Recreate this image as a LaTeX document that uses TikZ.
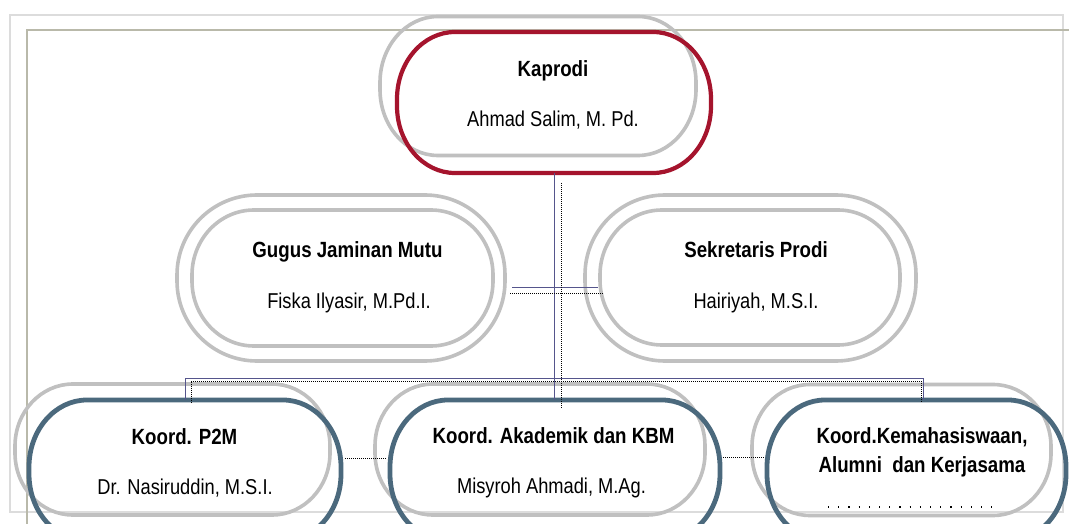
\documentclass[tikz,border=0pt]{standalone}
\usepackage{fontspec}
\setmainfont{Liberation Sans}
\newfontfamily\boxfont{Liberation Sans}[FakeStretch=0.85]
\definecolor{graybox}{RGB}{192,192,192}
\definecolor{redbox}{RGB}{165,20,45}
\definecolor{bluebox}{RGB}{75,105,125}
\definecolor{conn}{RGB}{85,85,140}
\definecolor{frameouter}{RGB}{220,220,220}
\definecolor{frameinner}{RGB}{185,185,170}
\tikzset{
  holder/.style={draw=none, inner sep=0pt, outer sep=0pt},
  graypen/.style={draw=graybox, line width=3.6pt},
  redpen/.style={draw=redbox, line width=4.2pt},
  bluepen/.style={draw=bluebox, line width=4.8pt},
  titletext/.style={anchor=base, inner sep=0pt, font=\boxfont\bfseries\fontsize{22}{29}\selectfont, align=center},
  nametext/.style={anchor=base, inner sep=0pt, font=\boxfont\fontsize{21.5}{26}\selectfont},
  solidconn/.style={draw=conn, line width=1pt},
  dotconn/.style={draw=black, line width=1pt, dash pattern=on 1pt off 1pt},
}
% #1 pen style, #2 node name, #3 x radius, #4 y radius
\newcommand{\pillshape}[4]{%
  \draw[#1] ([xshift=#3]#2.north west) -- ([xshift=-#3]#2.north east)
    arc[start angle=90, end angle=0, x radius=#3, y radius=#4]
    -- ([yshift=#4]#2.south east)
    arc[start angle=0, end angle=-90, x radius=#3, y radius=#4]
    -- ([xshift=#3]#2.south west)
    arc[start angle=270, end angle=180, x radius=#3, y radius=#4]
    -- ([yshift=-#4]#2.north west)
    arc[start angle=180, end angle=90, x radius=#3, y radius=#4] -- cycle;}
\begin{document}
\begin{tikzpicture}[x=1pt,y=-1pt]
\useasboundingbox (0,0) rectangle (1069,524);
\fill[white] (0,0) rectangle (1069,524);
% frames
\draw[frameouter, line width=2pt] (10,15) rectangle (1063,512);
\draw[frameinner, line width=2pt] (27,524) -- (27,30) -- (1069,30);

% back gray shapes (holders)
\node[holder, minimum width=316pt, minimum height=139pt] (kapB) at (538,86) {};
\node[holder, minimum width=328pt, minimum height=166pt] (gugB) at (341,278) {};
\node[holder, minimum width=331pt, minimum height=166pt] (sekB) at (750.5,278) {};
\node[holder, minimum width=315pt, minimum height=131pt] (p2mB) at (172.5,449.5) {};
\node[holder, minimum width=330pt, minimum height=131pt] (akaB) at (540,449.5) {};
\node[holder, minimum width=299pt, minimum height=131pt] (kemB) at (901.5,450) {};

% front shapes (holders)
\node[holder, minimum width=314pt, minimum height=141pt] (kap) at (554,102.5) {};
\node[holder, minimum width=301pt, minimum height=136pt] (gug) at (342.5,278) {};
\node[holder, minimum width=300pt, minimum height=135pt] (sek) at (750,277.5) {};
\node[holder, minimum width=312pt, minimum height=141pt] (p2m) at (185,470.5) {};
\node[holder, minimum width=330pt, minimum height=141pt] (aka) at (555,470.5) {};
\node[holder, minimum width=299pt, minimum height=141pt] (kem) at (916.5,470.5) {};

% outlines
\pillshape{graypen}{kapB}{58pt}{66pt}
\pillshape{graypen}{gugB}{80pt}{80pt}
\pillshape{graypen}{sekB}{80pt}{80pt}
\pillshape{graypen}{p2mB}{58pt}{62pt}
\pillshape{graypen}{akaB}{58pt}{62pt}
\pillshape{graypen}{kemB}{58pt}{62pt}
\pillshape{redpen}{kap}{58pt}{67pt}
\pillshape{graypen}{gug}{62pt}{65pt}
\pillshape{graypen}{sek}{62pt}{65pt}
\pillshape{bluepen}{p2m}{58pt}{67pt}
\pillshape{bluepen}{aka}{58pt}{67pt}
\pillshape{bluepen}{kem}{58pt}{67pt}

% connector coordinates
\coordinate (busL) at (185,378);
\coordinate (busM) at (554,378);
\coordinate (busR) at (923,378);
\coordinate (dbusL) at (191,381);
\coordinate (dbusM) at (561,381);
\coordinate (dbusR) at (921,381);
\coordinate (dtop) at (561,183);
\coordinate (hL) at (512,287);
\coordinate (hR) at (598,287);
\coordinate (dhL) at (510,293);
\coordinate (dhR) at (604,293);

% solid connectors
\draw[solidconn] (kap.south -| busM) -- (aka.north -| busM);
\draw[solidconn] (hL) -- (hR);
\draw[solidconn] (p2m.north -| busL) -- (busL) -- (busR) -- (kem.north -| busR);

% dotted connectors
\draw[dotconn] (dtop) -- ([yshift=-8pt]aka.north -| dbusM);
\draw[dotconn] (dhL) -- (dhR);
\draw[dotconn] ([yshift=-3pt]p2m.north -| dbusL) -- (dbusL) -- (dbusR) -- ([yshift=-3pt]kem.north -| dbusR);
\draw[dotconn] ([xshift=4pt]p2m.east |- 0,458) -- ([xshift=-3pt]aka.west |- 0,458);
\draw[dotconn] ([xshift=3pt]aka.east |- 0,457) -- ([xshift=-3pt]kem.west |- 0,457);

% texts
\node[titletext] (kapT) at (553,77) {Kaprodi};
\node[nametext] (kapN) at (553,127) {Ahmad Salim, M. Pd.};
\node[titletext] (gugT) at (347.5,258) {Gugus Jaminan Mutu};
\node[nametext] (gugN) at (349,308) {Fiska Ilyasir, M.Pd.I.};
\node[titletext] (sekT) at (756,257) {Sekretaris Prodi};
\node[nametext] (sekN) at (756,308) {Hairiyah, M.S.I.};
\node[titletext] (p2mT) at (184.5,444) {Koord. P2M};
\node[nametext] (p2mN) at (185,494) {Dr. Nasiruddin, M.S.I.};
\node[titletext] (akaT) at (553.5,443) {Koord. Akademik dan KBM};
\node[nametext] (akaN) at (551.5,493) {Misyroh Ahmadi, M.Ag.};
\node[titletext] (kemT) at (922,443) {Koord.Kemahasiswaan,};
\node[titletext] (kemT2) at (922,472) {Alumni\ \ dan Kerjasama};
\coordinate (cutL) at (828,507);
\coordinate (cutR) at (995,507);
\draw[black, line width=1.2pt, dash pattern=on 1.2pt off 9pt] (cutL) -- (cutR);
\end{tikzpicture}
\end{document}
